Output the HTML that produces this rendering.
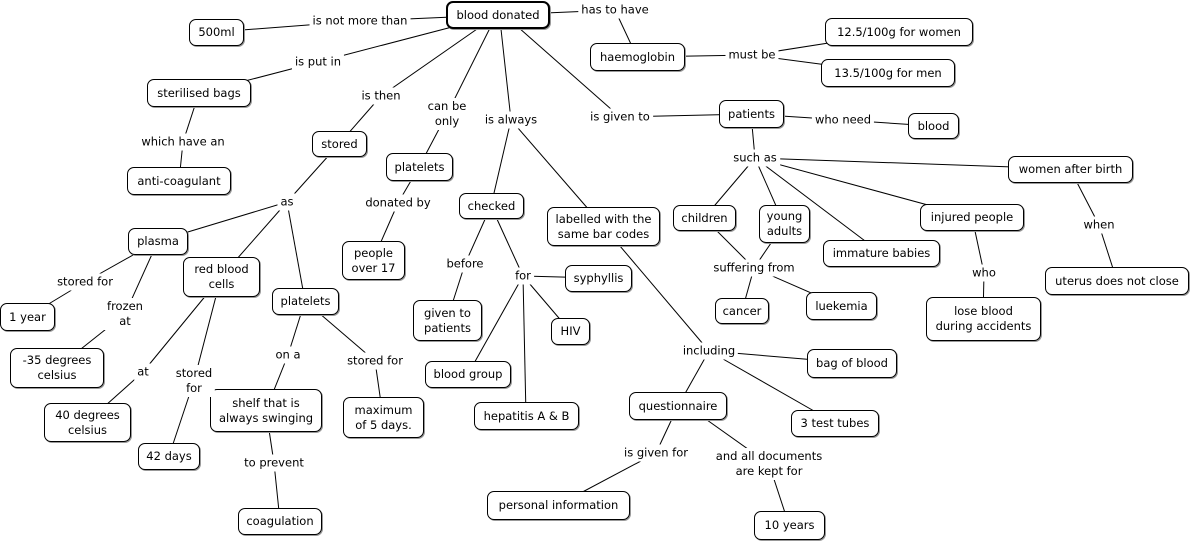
<!DOCTYPE html>
<html><head><meta charset="utf-8"><style>
body{margin:0;width:1192px;height:542px;background:#fff;position:relative;overflow:hidden;font-family:"DejaVu Sans","Liberation Sans",sans-serif;font-size:11.5px;color:#000}
svg{position:absolute;left:0;top:0}
.n{position:absolute;box-sizing:border-box;border:1px solid #000;border-radius:7px;background:#fff;display:flex;align-items:center;justify-content:center;text-align:center;line-height:15px;box-shadow:1px 1px 0 #999}
.l{position:absolute;transform:translate(-50%,-50%);background:#fff;padding:1px 3px;text-align:center;line-height:15px;white-space:nowrap}
</style></head><body>
<svg width="1192" height="542" stroke="#000" stroke-width="1">
<line x1="498" y1="15" x2="360" y2="21"/><line x1="360" y1="21" x2="216" y2="32"/>
<line x1="498" y1="15" x2="615" y2="10"/><line x1="615" y1="10" x2="637" y2="57"/>
<line x1="637" y1="57" x2="752" y2="55"/><line x1="752" y1="55" x2="899" y2="32"/><line x1="752" y1="55" x2="888" y2="73"/>
<line x1="498" y1="15" x2="318" y2="62"/><line x1="318" y1="62" x2="199" y2="93"/>
<line x1="199" y1="93" x2="183" y2="142"/><line x1="183" y1="142" x2="179" y2="181"/>
<line x1="490" y1="20" x2="381" y2="96"/><line x1="381" y1="96" x2="339" y2="144"/>
<line x1="494" y1="20" x2="447" y2="114"/><line x1="447" y1="114" x2="419" y2="167"/>
<line x1="419" y1="167" x2="398" y2="203"/><line x1="398" y1="203" x2="373" y2="260"/>
<line x1="500" y1="20" x2="511" y2="120"/><line x1="511" y1="120" x2="491" y2="206"/><line x1="511" y1="120" x2="603" y2="226"/>
<line x1="510" y1="20" x2="620" y2="117"/><line x1="620" y1="117" x2="751" y2="114"/>
<line x1="751" y1="114" x2="843" y2="120"/><line x1="843" y1="120" x2="933" y2="126"/>
<line x1="751" y1="114" x2="755" y2="158"/>
<line x1="755" y1="158" x2="1070" y2="169"/><line x1="755" y1="158" x2="704" y2="218"/><line x1="755" y1="158" x2="784" y2="224"/><line x1="755" y1="158" x2="881" y2="253"/><line x1="755" y1="158" x2="972" y2="217"/>
<line x1="1070" y1="169" x2="1099" y2="225"/><line x1="1099" y1="225" x2="1117" y2="281"/>
<line x1="704" y1="218" x2="754" y2="268"/><line x1="784" y1="224" x2="754" y2="268"/><line x1="754" y1="268" x2="742" y2="311"/><line x1="754" y1="268" x2="841" y2="306"/>
<line x1="972" y1="217" x2="984" y2="273"/><line x1="984" y1="273" x2="983" y2="319"/>
<line x1="339" y1="144" x2="287" y2="202"/><line x1="287" y1="202" x2="158" y2="241"/><line x1="287" y1="202" x2="221" y2="277"/><line x1="287" y1="202" x2="305" y2="301"/>
<line x1="158" y1="241" x2="85" y2="282"/><line x1="85" y1="282" x2="27" y2="317"/>
<line x1="158" y1="241" x2="125" y2="314"/><line x1="125" y1="314" x2="57" y2="368"/>
<line x1="221" y1="277" x2="143" y2="372"/><line x1="143" y1="372" x2="87" y2="422"/>
<line x1="221" y1="277" x2="194" y2="381"/><line x1="194" y1="381" x2="169" y2="456"/>
<line x1="305" y1="301" x2="288" y2="355"/><line x1="288" y1="355" x2="266" y2="410"/>
<line x1="305" y1="301" x2="375" y2="361"/><line x1="375" y1="361" x2="383" y2="417"/>
<line x1="266" y1="410" x2="274" y2="463"/><line x1="274" y1="463" x2="280" y2="521"/>
<line x1="491" y1="206" x2="465" y2="264"/><line x1="465" y1="264" x2="447" y2="320"/>
<line x1="491" y1="206" x2="523" y2="276"/><line x1="523" y1="276" x2="598" y2="278"/><line x1="523" y1="276" x2="570" y2="331"/><line x1="523" y1="276" x2="468" y2="374"/><line x1="523" y1="276" x2="526" y2="416"/>
<line x1="603" y1="226" x2="709" y2="351"/><line x1="709" y1="351" x2="852" y2="363"/><line x1="709" y1="351" x2="678" y2="406"/><line x1="709" y1="351" x2="835" y2="423"/>
<line x1="678" y1="406" x2="656" y2="453"/><line x1="656" y1="453" x2="558" y2="505"/>
<line x1="700" y1="415" x2="769" y2="464"/><line x1="769" y1="464" x2="789" y2="525"/>
</svg>
<div class="n" style="left:446px;top:1px;width:104px;height:28px;border:2px solid #000">blood donated</div>
<div class="n" style="left:189px;top:19px;width:55px;height:27px">500ml</div>
<div class="n" style="left:590px;top:43px;width:95px;height:28px">haemoglobin</div>
<div class="n" style="left:825px;top:18px;width:148px;height:28px">12.5/100g for women</div>
<div class="n" style="left:821px;top:59px;width:134px;height:28px">13.5/100g for men</div>
<div class="n" style="left:147px;top:79px;width:104px;height:28px">sterilised bags</div>
<div class="n" style="left:127px;top:167px;width:104px;height:28px">anti-coagulant</div>
<div class="n" style="left:312px;top:131px;width:55px;height:26px">stored</div>
<div class="n" style="left:386px;top:153px;width:67px;height:28px">platelets</div>
<div class="n" style="left:342px;top:241px;width:63px;height:39px">people<br>over 17</div>
<div class="n" style="left:459px;top:193px;width:65px;height:26px">checked</div>
<div class="n" style="left:547px;top:207px;width:113px;height:39px">labelled with the<br>same bar codes</div>
<div class="n" style="left:719px;top:100px;width:65px;height:28px">patients</div>
<div class="n" style="left:908px;top:113px;width:51px;height:26px">blood</div>
<div class="n" style="left:1008px;top:156px;width:125px;height:27px">women after birth</div>
<div class="n" style="left:673px;top:205px;width:63px;height:26px">children</div>
<div class="n" style="left:759px;top:205px;width:51px;height:38px">young<br>adults</div>
<div class="n" style="left:823px;top:240px;width:117px;height:27px">immature babies</div>
<div class="n" style="left:920px;top:204px;width:104px;height:27px">injured people</div>
<div class="n" style="left:1045px;top:267px;width:144px;height:28px">uterus does not close</div>
<div class="n" style="left:715px;top:298px;width:54px;height:26px">cancer</div>
<div class="n" style="left:806px;top:292px;width:71px;height:28px">luekemia</div>
<div class="n" style="left:926px;top:297px;width:115px;height:44px">lose blood<br>during accidents</div>
<div class="n" style="left:128px;top:228px;width:60px;height:27px">plasma</div>
<div class="n" style="left:183px;top:257px;width:77px;height:40px">red blood<br>cells</div>
<div class="n" style="left:272px;top:288px;width:67px;height:27px">platelets</div>
<div class="n" style="left:0px;top:303px;width:55px;height:28px">1 year</div>
<div class="n" style="left:10px;top:348px;width:94px;height:40px">-35 degrees<br>celsius</div>
<div class="n" style="left:44px;top:403px;width:87px;height:39px">40 degrees<br>celsius</div>
<div class="n" style="left:138px;top:443px;width:62px;height:27px">42 days</div>
<div class="n" style="left:210px;top:389px;width:112px;height:43px">shelf that is<br>always swinging</div>
<div class="n" style="left:343px;top:397px;width:81px;height:41px">maximum<br>of 5 days.</div>
<div class="n" style="left:238px;top:508px;width:84px;height:27px">coagulation</div>
<div class="n" style="left:413px;top:300px;width:69px;height:41px">given to<br>patients</div>
<div class="n" style="left:565px;top:265px;width:67px;height:27px">syphyllis</div>
<div class="n" style="left:551px;top:318px;width:39px;height:27px">HIV</div>
<div class="n" style="left:425px;top:361px;width:86px;height:27px">blood group</div>
<div class="n" style="left:474px;top:402px;width:105px;height:28px">hepatitis A &amp; B</div>
<div class="n" style="left:807px;top:349px;width:90px;height:29px">bag of blood</div>
<div class="n" style="left:629px;top:392px;width:98px;height:28px">questionnaire</div>
<div class="n" style="left:791px;top:410px;width:88px;height:27px">3 test tubes</div>
<div class="n" style="left:487px;top:491px;width:143px;height:29px">personal information</div>
<div class="n" style="left:754px;top:511px;width:71px;height:29px">10 years</div>
<div class="l" style="left:360px;top:21px">is not more than</div>
<div class="l" style="left:615px;top:10px">has to have</div>
<div class="l" style="left:752px;top:55px">must be</div>
<div class="l" style="left:318px;top:62px">is put in</div>
<div class="l" style="left:183px;top:142px">which have an</div>
<div class="l" style="left:381px;top:96px">is then</div>
<div class="l" style="left:447px;top:114px">can be<br>only</div>
<div class="l" style="left:398px;top:203px">donated by</div>
<div class="l" style="left:511px;top:120px">is always</div>
<div class="l" style="left:620px;top:117px">is given to</div>
<div class="l" style="left:843px;top:120px">who need</div>
<div class="l" style="left:755px;top:158px">such as</div>
<div class="l" style="left:1099px;top:225px">when</div>
<div class="l" style="left:754px;top:268px">suffering from</div>
<div class="l" style="left:984px;top:273px">who</div>
<div class="l" style="left:287px;top:202px">as</div>
<div class="l" style="left:85px;top:282px">stored for</div>
<div class="l" style="left:125px;top:314px">frozen<br>at</div>
<div class="l" style="left:143px;top:372px">at</div>
<div class="l" style="left:194px;top:381px">stored<br>for</div>
<div class="l" style="left:288px;top:355px">on a</div>
<div class="l" style="left:375px;top:361px">stored for</div>
<div class="l" style="left:274px;top:463px">to prevent</div>
<div class="l" style="left:465px;top:264px">before</div>
<div class="l" style="left:523px;top:276px">for</div>
<div class="l" style="left:709px;top:351px">including</div>
<div class="l" style="left:656px;top:453px">is given for</div>
<div class="l" style="left:769px;top:464px">and all documents<br>are kept for</div>
</body></html>
